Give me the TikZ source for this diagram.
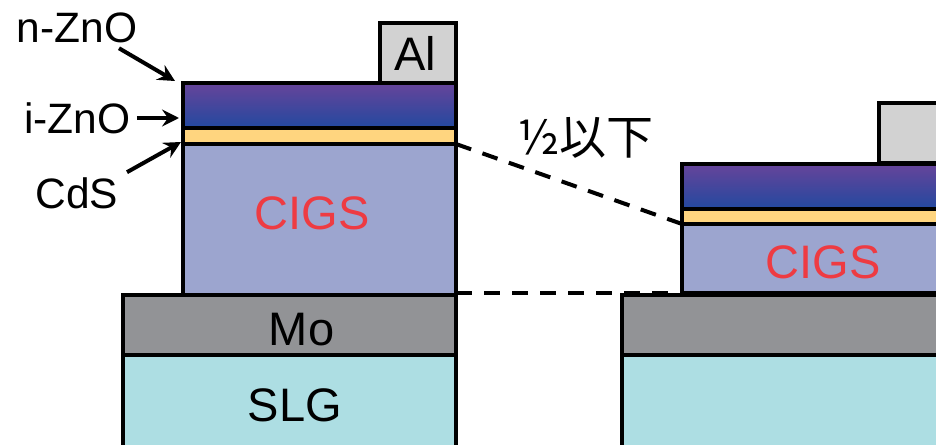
\documentclass[tikz,border=0pt]{standalone}
\usepackage{fontspec}
\setmainfont{Liberation Sans}
\newfontfamily\cjk{Noto Sans CJK JP}
\usetikzlibrary{arrows.meta}
\definecolor{alfill}{HTML}{D2D2D2}
\definecolor{znotop}{HTML}{66449A}
\definecolor{znobot}{HTML}{23499F}
\definecolor{cdsfill}{HTML}{FFD57F}
\definecolor{cigsfill}{HTML}{9CA5CF}
\definecolor{mofill}{HTML}{929396}
\definecolor{slgfill}{HTML}{ADDEE3}
\definecolor{cigstext}{HTML}{EE3B42}
\tikzset{
	layer/.style={draw=black,line width=4.5pt,anchor=north west,inner sep=0pt,outer sep=0pt},
	biglabel/.style={font=\fontsize{47}{51}\selectfont,inner sep=0pt},
	sidelabel/.style={font=\fontsize{42.5}{46}\selectfont,inner sep=0pt},
	pointer/.style={line width=4pt,-{Stealth[length=17pt,width=17pt,inset=6pt]}},
	guide/.style={line width=4pt,dash pattern=on 16pt off 12pt}
}
\begin{document}
\begin{tikzpicture}[x=1pt,y=-1pt]
		\clip (0,0) rectangle (936,444);
		% left stack
		\node[layer,fill=alfill,minimum width=76pt,minimum height=60pt] (al1) at (380,23) {};
		\node[layer,top color=znotop,bottom color=znobot,minimum width=273pt,minimum height=45pt] (zno1) at (183,83) {};
		\node[layer,fill=cdsfill,minimum width=273pt,minimum height=16pt] (cds1) at (183,128) {};
		\node[layer,fill=cigsfill,minimum width=273pt,minimum height=151pt] (cigs1) at (183,144) {};
		\node[layer,fill=mofill,minimum width=333pt,minimum height=60pt] (mo1) at (123,295) {};
		\node[layer,fill=slgfill,minimum width=333pt,minimum height=120pt] (slg1) at (123,355) {};
		% right stack
		\node[layer,fill=alfill,minimum width=76pt,minimum height=60pt] (al2) at (879,103) {};
		\node[layer,top color=znotop,bottom color=znobot,minimum width=273pt,minimum height=45pt] (zno2) at (682,164) {};
		\node[layer,fill=cdsfill,minimum width=273pt,minimum height=15pt] (cds2) at (682,209) {};
		\node[layer,fill=cigsfill,minimum width=273pt,minimum height=69pt] (cigs2) at (682,224) {};
		\node[layer,fill=mofill,minimum width=333pt,minimum height=60pt] (mo2) at (622,295) {};
		\node[layer,fill=slgfill,minimum width=333pt,minimum height=120pt] (slg2) at (622,355) {};
		% text
		\node[biglabel] (allabel) at (415.5,53) {Al};
		\node[biglabel,text=cigstext] (cigslabel1) at (312,213) {CIGS};
		\node[biglabel,text=cigstext] (cigslabel2) at (823,262) {CIGS};
		\node[biglabel] (molabel) at (301.5,330) {Mo};
		\node[biglabel] (slglabel) at (295,405) {SLG};
		\node[sidelabel] (nlabel) at (77,28) {n-ZnO};
		\node[sidelabel] (ilabel) at (77.5,118) {i-ZnO};
		\node[sidelabel] (cdslabel) at (77,193) {CdS};
		\node[font=\fontsize{47}{51}\selectfont\cjk,inner sep=0pt] (halflabel) at (585.5,138) {½以下};
		%%
		\draw[pointer] ([xshift=42pt,yshift=-5pt]nlabel.south) -- ([xshift=-8pt,yshift=2pt]zno1.north west);
		\draw[pointer] (ilabel.east) ++(6pt,0) -- ([xshift=-4pt]ilabel.east -| zno1.west);
		\draw[pointer] ([xshift=50pt,yshift=5pt]cdslabel.north) -- ([xshift=-2pt,yshift=2pt]cds1.south west);
		%%
		\draw[guide] (cds1.south east) -- (cds2.south west);
		\draw[guide] ([yshift=2pt]mo1.north east) -- (cigs2.south west);
	\end{tikzpicture}
\end{document}
